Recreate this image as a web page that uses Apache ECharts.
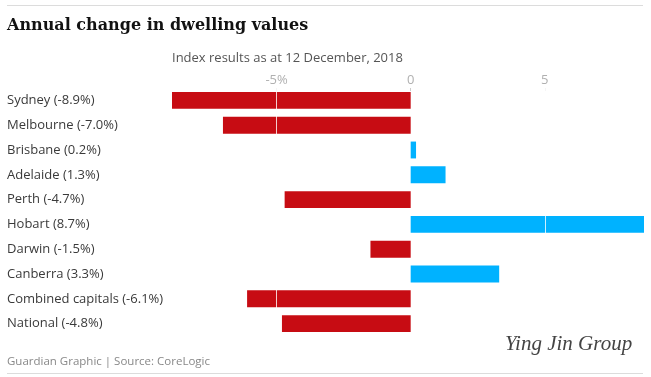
<!DOCTYPE html>
<html><head><meta charset="utf-8">
<script src="https://cdn.jsdelivr.net/npm/echarts@6/dist/echarts.min.js"></script>
<style>
html,body{margin:0;padding:0;background:#fff;}
#c{width:651px;height:377px;}
</style></head>
<body><div id="c"></div>
<script>
const cities = ["Sydney","Melbourne","Brisbane","Adelaide","Perth","Hobart","Darwin","Canberra","Combined capitals","National"];
const changes = [-8.9,-7.0,0.2,1.3,-4.7,8.7,-1.5,3.3,-6.1,-4.8];
const tickValues = [-5,0,5];
const tickLabels = {"-5":"-5%","0":"0","5":"5"};
const gridLineValues = [-5,5];

const labels = cities.map((c,i)=>c+" ("+changes[i].toFixed(1)+"%)");
const RED = "#c70c13", BLUE = "#00b2ff";

const chart = echarts.init(document.getElementById('c'), null, {renderer:'canvas'});
chart.setOption({
  animation:false,
  backgroundColor:'#fff',
  graphic:[
    {type:'line',shape:{x1:7,y1:5.5,x2:643,y2:5.5},style:{stroke:'#dcdcdc',lineWidth:1}},
    {type:'text',left:7,top:18,style:{text:'Annual change in dwelling values',font:'bold 16px "DejaVu Serif", serif',fill:'#121212'}},
    {type:'text',left:172,top:52,style:{text:'Index results as at 12 December, 2018',font:'13px "Open Sans", "Noto Sans", sans-serif',fill:'#555'}},
    {type:'text',left:7,top:356,style:{text:'Guardian Graphic | Source: CoreLogic',font:'11.5px "Open Sans", "Noto Sans", sans-serif',fill:'#888'}},
    {type:'text',left:505,top:334,style:{text:'Ying Jin Group',font:'italic 21px "Liberation Serif", serif',fill:'#444'}},
    {type:'line',shape:{x1:7,y1:373.5,x2:643,y2:373.5},style:{stroke:'#dcdcdc',lineWidth:1}}
  ],
  grid:{left:172,right:7,top:88,bottom:41,containLabel:false},
  xAxis:{
    type:'value',position:'top',min:-8.9,max:8.7,
    axisLine:{show:false},
    splitLine:{show:false},
    axisTick:{show:true,inside:true,length:3,lineStyle:{color:'#ccc'},customValues:tickValues},
    axisLabel:{show:true,margin:1,color:'#b0b0b0',fontSize:13,fontFamily:'"Open Sans", sans-serif',
      customValues:tickValues,formatter:v=>tickLabels[String(v)]}
  },
  yAxis:{
    type:'category',data:labels,inverse:true,
    axisLine:{show:false},axisTick:{show:false},
    axisLabel:{align:'left',margin:165,color:'#3a3a3a',fontSize:13,fontFamily:'"Open Sans", "Noto Sans", sans-serif'}
  },
  series:[{
    type:'bar',data:changes,barCategoryGap:'32%',
    itemStyle:{color:p=>p.value<0?RED:BLUE},
    markLine:{silent:true,symbol:'none',label:{show:false},
      lineStyle:{color:'#fff',width:1,type:'solid',opacity:0.8},
      data:gridLineValues.map(v=>({xAxis:v}))}
  }]
});
</script></body></html>
